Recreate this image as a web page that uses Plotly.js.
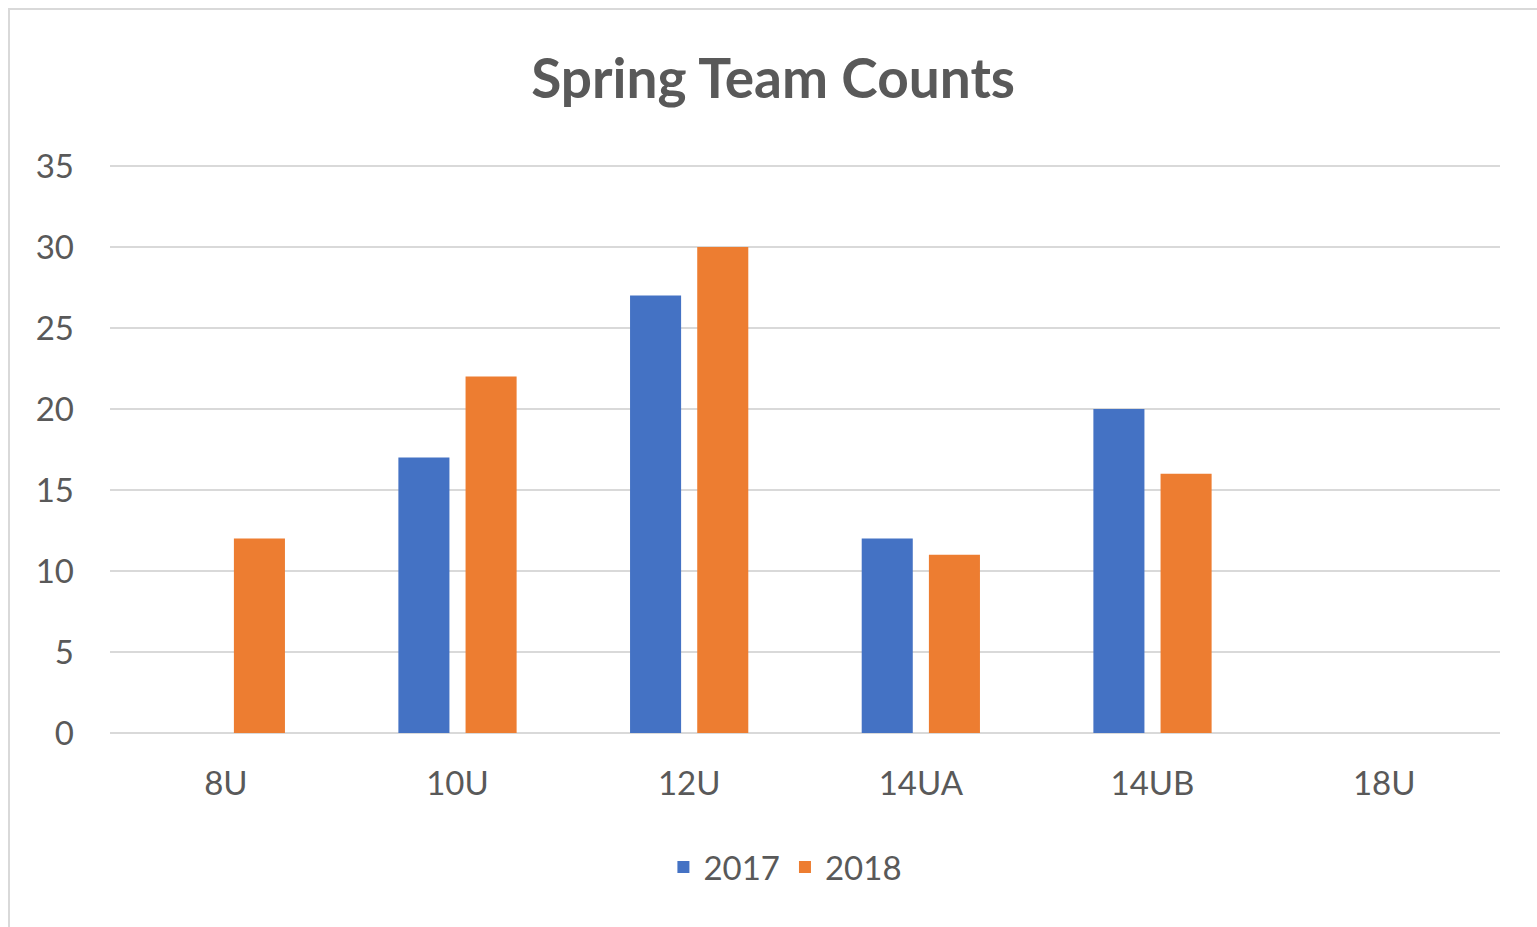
<!DOCTYPE html>
<html>
<head>
<meta charset="utf-8">
<script src="https://cdn.plot.ly/plotly-3.0.1.min.js"></script>
<style>
  html, body { margin: 0; padding: 0; background: #ffffff; overflow: hidden; }
  #chart { width: 1537px; height: 927px; }
  #frame { position: absolute; left: 8px; top: 8px; width: 1540px; height: 930px;
           border-left: 2px solid #d9d9d9; border-top: 2px solid #d9d9d9; pointer-events: none; }
</style>
</head>
<body>
<div id="chart"></div>
<div id="frame"></div>
<script>
const categories = ["8U", "10U", "12U", "14UA", "14UB", "18U"];
const seriesNames = ["2017", "2018"];
const values2017 = [null, 17, 27, 12, 20, null];
const values2018 = [12, 22, 30, 11, 16, null];
const yTicks = [0, 5, 10, 15, 20, 25, 30, 35];
const chartTitle = "Spring Team Counts";

const textColor = "#595959";
const fontFamily = "Lato, 'Open Sans', sans-serif";

const traces = [
  { type: "bar", name: seriesNames[0], x: categories, y: values2017,
    marker: { color: "#4472C4" }, hoverinfo: "x+y+name" },
  { type: "bar", name: seriesNames[1], x: categories, y: values2018,
    marker: { color: "#ED7D31" }, hoverinfo: "x+y+name" }
];

const layout = {
  width: 1537, height: 927,
  paper_bgcolor: "#ffffff", plot_bgcolor: "#ffffff",
  margin: { l: 110, r: 37, t: 164, b: 194 },
  barmode: "group", bargap: 0.42, bargroupgap: 0.24,
  title: {
    text: "<b>" + chartTitle + "</b>",
    font: { family: fontFamily, size: 55, color: textColor },
    xref: "container", x: 0.503, xanchor: "center",
    yref: "container", y: 1 - 79 / 927, yanchor: "middle"
  },
  xaxis: {
    type: "category",
    showgrid: false, showline: false, zeroline: false,
    ticks: "", ticklabelstandoff: 28,
    tickfont: { family: fontFamily, size: 33, color: textColor }
  },
  yaxis: {
    range: [0, 35.12], tickvals: yTicks, ticktext: yTicks.map(String),
    showgrid: true, gridcolor: "#d9d9d9", gridwidth: 2,
    zeroline: true, zerolinecolor: "#d9d9d9", zerolinewidth: 2,
    showline: false, ticks: "", ticklabelstandoff: 35,
    tickfont: { family: fontFamily, size: 33, color: textColor }
  },
  showlegend: true,
  legend: {
    orientation: "h",
    xref: "container", x: 0.511, xanchor: "center",
    yref: "container", y: 1 - 867 / 927, yanchor: "middle",
    font: { family: fontFamily, size: 33, color: textColor },
    itemclick: false, itemdoubleclick: false
  }
};

Plotly.newPlot("chart", traces, layout, { displayModeBar: false });
</script>
</body>
</html>
